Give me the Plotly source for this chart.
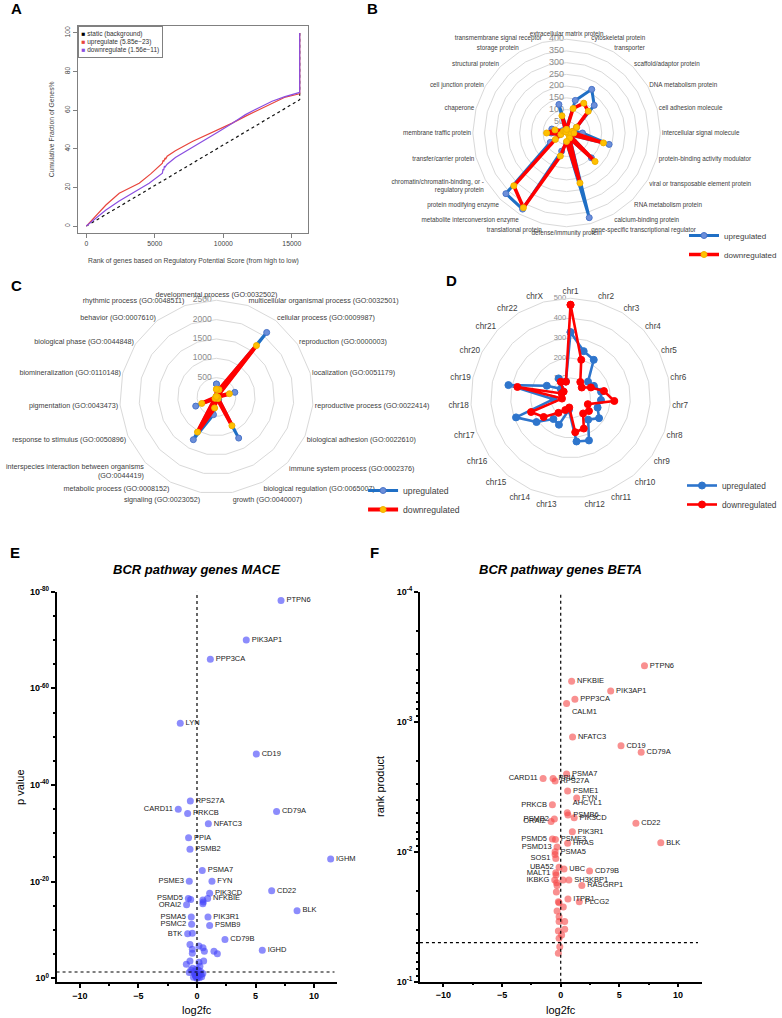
import math
import plotly.graph_objects as go

FONT = "Liberation Sans, Arial, sans-serif"
W, H = 782, 1018


def fx(px):
    return px / W


def fy(py):
    return 1 - py / H


# ---------------- Panel A data ----------------
a_rank_static = [0, 15575, 15575]
a_frac_static = [0, 65.4, 100]
a_rank_up = [0, 700, 1430, 2400, 3100, 3857, 4700, 5553, 5600, 5650, 5750, 5800, 5900, 6500,
             7740, 8600, 9190, 10650, 11600, 12590, 13500, 14530, 15500, 15575, 15575]
a_frac_up = [0, 5.5, 10.9, 17.0, 19.5, 22.2, 27.0, 32.6, 34.0, 33.4, 35.3, 34.8, 36.2, 39.0,
             43.8, 46.6, 48.5, 53.3, 56.8, 60.3, 63.5, 66.8, 68.4, 68.5, 100]
a_rank_down = [0, 700, 1430, 2400, 3370, 4585, 5553, 5600, 5650, 5700, 5750, 5800, 5900, 6500,
               7256, 8500, 9680, 10600, 11620, 12600, 13560, 14500, 15500, 15575, 15575]
a_frac_down = [0, 4.2, 8.3, 13.0, 17.0, 22.2, 27.4, 29.5, 29.0, 31.0, 30.6, 31.3, 32.0, 35.5,
               38.6, 44.0, 49.0, 53.0, 57.7, 61.3, 64.6, 67.0, 69.0, 69.2, 100]
a_xticks = [0, 5000, 10000, 15000]
a_xticktext = ["0", "5000", "10000", "15000"]
a_yticks = [0, 20, 40, 60, 80, 100]

# ---------------- Panel B data ----------------
b_categories = [
    "extracellular matrix protein", "cytoskeletal protein", "transporter",
    "scaffold/adaptor protein", "DNA metabolism protein", "cell adhesion molecule",
    "intercellular signal molecule", "protein-binding activity modulator",
    "viral or transposable element protein", "RNA metabolism protein",
    "calcium-binding protein", "gene-specific transcriptional regulator",
    "defense/immunity protein", "translational protein",
    "metabolite interconversion enzyme", "protein modifying enzyme",
    "chromatin/chromatin-binding, or -<br>regulatory protein", "transfer/carrier protein",
    "membrane traffic protein", "chaperone", "cell junction protein",
    "structural protein", "storage protein", "transmembrane signal receptor",
]
b_up = [20, 144, 215, 167, 50, 30, 68, 188, 15, 150, 30, 374, 40, 80, 375, 366, 80, 30, 65,
        65, 20, 15, 10, 126]
b_down = [15, 108, 147, 131, 49, 25, 31, 163, 10, 172, 25, 221, 36, 102, 368, 318, 55, 25, 85,
          51, 15, 10, 5, 76]
b_rticks = [0, 50, 100, 150, 200, 250, 300, 350, 400]

# ---------------- Panel C data ----------------
c_categories = [
    "developmental process (GO:0032502)", "multicellular organismal process (GO:0032501)",
    "cellular process (GO:0009987)", "reproduction (GO:0000003)", "localization (GO:0051179)",
    "reproductive process (GO:0022414)", "biological adhesion (GO:0022610)",
    "immune system process (GO:0002376)", "biological regulation (GO:0065007)",
    "growth (GO:0040007)", "signaling (GO:0023052)", "metabolic process (GO:0008152)",
    "interspecies interaction between organisms<br>(GO:0044419)",
    "response to stimulus (GO:0050896)", "pigmentation (GO:0043473)",
    "biomineralization (GO:0110148)", "biological phase (GO:0044848)",
    "behavior (GO:0007610)", "rhythmic process (GO:0048511)",
]
c_up = [335, 200, 2113, 20, 490, 25, 60, 80, 1207, 10, 463, 1254, 60, 585, 5, 5, 10, 15, 10]
c_down = [200, 200, 1684, 15, 345, 20, 45, 60, 842, 10, 287, 1030, 50, 413, 5, 5, 10, 15, 10]
c_rticks = [0, 500, 1000, 1500, 2000, 2500]

# ---------------- Panel D data ----------------
d_categories = ["chr1", "chr2", "chr3", "chr4", "chr5", "chr6", "chr7", "chr8", "chr9", "chr10",
                "chr11", "chr12", "chr13", "chr14", "chr15", "chr16", "chr17", "chr18", "chr19",
                "chr20", "chr21", "chr22", "chrX"]
d_up = [330, 244, 224, 120, 132, 156, 153, 144, 175, 140, 232, 220, 60, 146, 136, 209, 290, 85,
        318, 134, 67, 115, 86]
d_down = [467, 199, 94, 77, 115, 171, 220, 92, 113, 100, 167, 173, 48, 66, 96, 165, 210, 43,
          272, 50, 47, 95, 85]
d_rticks = [0, 100, 200, 300, 400, 500]

# ---------------- Panel E data (MACE) ----------------
e_genes_right = ["PTPN6", "PIK3AP1", "PPP3CA", "LYN", "CD19", "RPS27A", "PRKCB", "CD79A",
                 "NFATC3", "PPIA", "PSMB2", "IGHM", "PSMA7", "FYN", "PIK3CD", "CD22", "NFKBIE",
                 "BLK", "PIK3R1", "PSMB9", "CD79B", "IGHD"]
e_fc_right = [7.18, 4.21, 1.14, -1.43, 5.07, -0.57, -0.80, 6.80, 0.97, -0.72, -0.60, 11.42,
              0.45, 1.28, 1.08, 6.38, 0.91, 8.55, 0.94, 1.08, 2.39, 5.58]
e_nlp_right = [78.2, 70.0, 66.0, 52.8, 46.4, 36.7, 34.1, 34.5, 32.0, 29.1, 26.7, 24.7, 22.3,
               20.1, 17.6, 18.1, 16.5, 14.0, 12.7, 10.9, 8.0, 5.8]
e_genes_left = ["CARD11", "PSME3", "PSMD5", "ORAI2", "PSMA5", "PSMC2", "BTK"]
e_fc_left = [-1.60, -0.66, -0.74, -0.89, -0.49, -0.46, -0.80]
e_nlp_left = [35.0, 20.1, 16.5, 15.2, 12.7, 11.2, 9.2]
e_fc_other = [-0.54, 0.50, 0.53, 0.50, -0.40, -0.60, 0.17, 0.51, -0.40, -0.40, 0.63, 1.45, 1.74,
              -0.91, -0.60, 0.17, 0.57, -0.37, -0.23, -0.10, 0.30, 0.50, 0.17, -0.06, -0.52,
              -0.66, 0.11, -0.14, 0.06, -0.30, -0.02, 0.25, 0.40, -0.20, 0.00, 0.10, -0.05,
              0.20, -0.15, 0.35]
e_nlp_other = [16.3, 16.2, 15.8, 15.4, 9.3, 7.0, 6.7, 6.3, 6.0, 5.2, 5.6, 5.6, 5.1, 2.9, 3.6,
               3.3, 3.6, 2.1, 1.4, 0.4, 1.4, 1.0, 0.7, 0.3, 1.7, 1.2, 1.7, 0.7, 0.2, 0.2, 0.0,
               2.5, 0.3, 1.0, 0.9, 0.5, 1.9, 0.1, 0.6, 0.8]
e_yticks = [0, 20, 40, 60, 80]
e_yticktext = ["10<sup>0</sup>", "10<sup>-20</sup>", "10<sup>-40</sup>", "10<sup>-60</sup>",
               "10<sup>-80</sup>"]

# ---------------- Panel F data (BETA) ----------------
f_genes_right = ["PTPN6", "NFKBIE", "PIK3AP1", "PPP3CA", "NFATC3", "CD19", "CD79A", "PSMA7",
                 "PPIA", "RPS27A", "PSME1", "FYN", "PSMB6", "PIK3CD", "CD22", "PIK3R1", "PSME3",
                 "HRAS", "BLK", "PSMA5", "UBC", "CD79B", "SH3KBP1", "RASGRP1", "ITPR1", "PLCG2"]
f_fc_right = [7.14, 0.93, 4.26, 1.21, 1.01, 5.14, 6.86, 0.50, -0.65, -0.48, 0.59, 1.36, 0.62,
              1.15, 6.41, 0.99, -0.45, 0.59, 8.53, -0.48, 0.28, 2.46, 0.70, 1.80, 0.62, 1.58]
f_rp_right = [3.71e-4, 4.89e-4, 5.81e-4, 6.73e-4, 1.31e-3, 1.53e-3, 1.72e-3, 2.52e-3, 2.74e-3,
              2.86e-3, 3.41e-3, 3.86e-3, 5.22e-3, 5.47e-3, 6.05e-3, 7.02e-3, 8.04e-3, 8.61e-3,
              8.53e-3, 1.00e-2, 1.36e-2, 1.41e-2, 1.65e-2, 1.82e-2, 2.31e-2, 2.43e-2]
f_genes_left = ["CARD11", "PRKCB", "PSMB2", "ORAI2", "PSMD5", "PSMD13", "SOS1", "UBA52",
                "MALT1", "IKBKG"]
f_fc_left = [-1.50, -0.71, -0.54, -0.82, -0.71, -0.31, -0.42, -0.14, -0.42, -0.51]
f_rp_left = [2.74e-3, 4.35e-3, 5.60e-3, 5.87e-3, 7.98e-3, 9.20e-3, 1.13e-2, 1.32e-2, 1.45e-2,
             1.65e-2]
f_genes_calm = ["CALM1"]
f_fc_calm = [0.50]
f_rp_calm = [7.23e-4]
f_genes_ahcyl = ["AHCYL1"]
f_fc_ahcyl = [0.56]
f_rp_ahcyl = [5.01e-3]
f_fc_other = [-0.48, -0.35, -0.31, -0.37, -0.20, -0.14, 0.22, -0.31, -0.14, -0.14, 0.34, 0.34,
              -0.20, 0.08, -0.14, -0.08, -0.20, 0.20, -0.40]
f_rp_other = [1.05e-2, 1.73e-2, 1.82e-2, 2.04e-2, 2.43e-2, 2.47e-2, 2.66e-2, 2.86e-2, 3.16e-2,
              3.45e-2, 3.45e-2, 3.95e-2, 4.07e-2, 4.38e-2, 4.64e-2, 5.38e-2, 6.05e-2, 1.65e-2,
              1.51e-2]
f_yticks = [1e-4, 1e-3, 1e-2, 1e-1]
f_yticktext = ["10<sup>-4</sup>", "10<sup>-3</sup>", "10<sup>-2</sup>", "10<sup>-1</sup>"]
f_yminor = [k * 10 ** e for e in (-4, -3, -2) for k in range(2, 10)]

fc_ticks = [-10, -5, 0, 5, 10]
P_THRESHOLD = 0.05

fig = go.Figure()

# ---------------- Panel A traces ----------------
fig.add_trace(go.Scatter(x=a_rank_static, y=a_frac_static, mode="lines",
                         line=dict(color="#111111", width=1.2, dash="3px,3px"),
                         showlegend=False, xaxis="x", yaxis="y"))
fig.add_trace(go.Scatter(x=a_rank_up, y=a_frac_up, mode="lines",
                         line=dict(color="#E8453C", width=1.2),
                         showlegend=False, xaxis="x", yaxis="y"))
fig.add_trace(go.Scatter(x=a_rank_down, y=a_frac_down, mode="lines",
                         line=dict(color="#8A4FE0", width=1.2),
                         showlegend=False, xaxis="x", yaxis="y"))


# ---------------- Polar helpers ----------------
def closed(seq):
    return list(seq) + [seq[0]]


def radar(cats, vals, name, lcol, lw, mcol, mline, msize, subplot, legend, showlegend=True):
    return go.Scatterpolar(
        theta=closed(cats), r=closed(vals), name=name, mode="lines+markers",
        line=dict(color=lcol, width=lw),
        marker=dict(color=mcol, size=msize, line=dict(color=mline, width=1)),
        subplot=subplot, legend=legend, showlegend=showlegend)


def radial_labels(cats, ticks, subplot, size, pad):
    # radial tick values written beside the vertical (first-category) spoke
    return go.Scatterpolar(
        theta=[cats[0]] * len(ticks), r=ticks, mode="text",
        text=[str(t) + "\u00a0" * pad for t in ticks], textposition="middle left",
        textfont=dict(family=FONT, size=size, color="#8c8c8c"),
        subplot=subplot, showlegend=False, hoverinfo="skip")


# B
fig.add_trace(radial_labels(b_categories, b_rticks, "polar", 9, 1))
fig.add_trace(radar(b_categories, b_up, "upregulated", "#1F6FC5", 3, "#6C8FDA", "#4A74C8", 6,
                    "polar", "legend"))
fig.add_trace(radar(b_categories, b_down, "downregulated", "#FF0000", 3.5, "#FFC000", "#F0B000",
                    6, "polar", "legend"))
fig.add_trace(go.Scatterpolar(theta=b_categories, r=[0] * len(b_categories), mode="markers",
                              marker=dict(color="#70AD47", size=6), subplot="polar",
                              showlegend=False))
# C
fig.add_trace(radial_labels(c_categories, c_rticks, "polar2", 8.5, 2))
fig.add_trace(radar(c_categories, c_up, "upregulated", "#1F6FC5", 3, "#6C8FDA", "#4A74C8", 6,
                    "polar2", "legend2"))
fig.add_trace(radar(c_categories, c_down, "downregulated", "#FF0000", 4, "#FFC000", "#F0B000",
                    6, "polar2", "legend2"))
fig.add_trace(go.Scatterpolar(theta=c_categories, r=[0] * len(c_categories), mode="markers",
                              marker=dict(color="#70AD47", size=6), subplot="polar2",
                              showlegend=False))
# D
fig.add_trace(radial_labels(d_categories, d_rticks, "polar3", 7.6, 2))
fig.add_trace(radar(d_categories, d_up, "upregulated", "#2E75CC", 2.6, "#2E75CC", "#2E75CC", 7,
                    "polar3", "legend3"))
fig.add_trace(radar(d_categories, d_down, "downregulated", "#FF0000", 2.6, "#FF0000", "#FF0000",
                    7, "polar3", "legend3"))

# ---------------- Panel E traces ----------------
E_MARK = dict(color="rgba(70,70,250,0.62)", size=7)
LABEL_FONT = dict(family=FONT, size=7.5, color="#1a1a1a")
fig.add_trace(go.Scatter(x=e_fc_other, y=e_nlp_other, mode="markers", marker=E_MARK,
                         showlegend=False, xaxis="x2", yaxis="y2"))
fig.add_trace(go.Scatter(x=e_fc_right, y=e_nlp_right, mode="markers+text", text=e_genes_right,
                         textposition="middle right", textfont=LABEL_FONT, marker=E_MARK,
                         cliponaxis=False, showlegend=False, xaxis="x2", yaxis="y2"))
fig.add_trace(go.Scatter(x=e_fc_left, y=e_nlp_left, mode="markers+text", text=e_genes_left,
                         textposition="middle left", textfont=LABEL_FONT, marker=E_MARK,
                         cliponaxis=False, showlegend=False, xaxis="x2", yaxis="y2"))

# ---------------- Panel F traces ----------------
F_MARK = dict(color="rgba(245,70,70,0.6)", size=7)
fig.add_trace(go.Scatter(x=f_fc_other, y=f_rp_other, mode="markers", marker=F_MARK,
                         showlegend=False, xaxis="x3", yaxis="y3"))
fig.add_trace(go.Scatter(x=f_fc_right, y=f_rp_right, mode="markers+text", text=f_genes_right,
                         textposition="middle right", textfont=LABEL_FONT, marker=F_MARK,
                         cliponaxis=False, showlegend=False, xaxis="x3", yaxis="y3"))
fig.add_trace(go.Scatter(x=f_fc_left, y=f_rp_left, mode="markers+text", text=f_genes_left,
                         textposition="middle left", textfont=LABEL_FONT, marker=F_MARK,
                         cliponaxis=False, showlegend=False, xaxis="x3", yaxis="y3"))
fig.add_trace(go.Scatter(x=f_fc_calm, y=f_rp_calm, mode="markers+text", text=f_genes_calm,
                         textposition="bottom right", textfont=LABEL_FONT, marker=F_MARK,
                         cliponaxis=False, showlegend=False, xaxis="x3", yaxis="y3"))
fig.add_trace(go.Scatter(x=f_fc_ahcyl, y=f_rp_ahcyl, mode="markers+text", text=f_genes_ahcyl,
                         textposition="top right", textfont=LABEL_FONT, marker=F_MARK,
                         cliponaxis=False, showlegend=False, xaxis="x3", yaxis="y3"))

# ---------------- Reference lines (threshold / zero) ----------------
e_thr = -math.log10(P_THRESHOLD)
shapes = [
    dict(type="line", xref="x2", yref="y2", x0=-12, x1=11.75, y0=e_thr, y1=e_thr,
         line=dict(color="black", width=1.2, dash="dot")),
    dict(type="line", xref="x2", yref="y2", x0=0, x1=0, y0=-0.77, y1=80,
         line=dict(color="black", width=1.2, dash="dot")),
    dict(type="line", xref="x3", yref="y3", x0=-12, x1=11.7, y0=P_THRESHOLD, y1=P_THRESHOLD,
         line=dict(color="black", width=1.2, dash="dot")),
    dict(type="line", xref="x3", yref="y3", x0=0, x1=0, y0=1e-1, y1=1e-4,
         line=dict(color="black", width=1.2, dash="dot")),
]

# ---------------- Layout ----------------
A_TICK = dict(family=FONT, size=6.8, color="#444444")
prism_tick = dict(family=FONT, size=9, color="black", weight="bold")


def polar_layout(domx, domy, rmax, dtick, afont):
    return dict(
        domain=dict(x=domx, y=domy),
        bgcolor="rgba(0,0,0,0)",
        gridshape="linear",
        angularaxis=dict(rotation=90, direction="clockwise", showgrid=False, showline=True,
                         linecolor="#d9d9d9", linewidth=1, ticks="",
                         tickfont=dict(family=FONT, size=afont, color="#404040")),
        radialaxis=dict(range=[0, rmax], dtick=dtick, angle=90, showticklabels=False,
                        showline=False, ticks="", gridcolor="#d9d9d9", gridwidth=1),
    )


legend_common = dict(xanchor="left", yanchor="top", bgcolor="rgba(0,0,0,0)", itemwidth=30,
                     tracegroupgap=0)

annotations = []


def ann(text, x, y, size, **kw):
    d = dict(text=text, x=fx(x), y=fy(y), xref="paper", yref="paper", showarrow=False,
             xanchor="center", yanchor="middle",
             font=dict(family=FONT, size=size, color=kw.pop("color", "black")))
    d.update(kw)
    annotations.append(d)


# panel letters
for letter, lx, ly in [("A", 17, 8.5), ("B", 373.5, 8.5), ("C", 17, 285), ("D", 452.5, 280.5),
                       ("E", 15.5, 552.5), ("F", 375, 552.5)]:
    ann("<b>" + letter + "</b>", lx, ly, 15)

# A titles and legend box
ann("Rank of genes based on Regulatory Potential Score (from high to low)", 193.5, 261, 6.8,
    color="#444444")
ann("Cumulative Fraction of Genes%", 52, 129.5, 6.8, color="#444444", textangle=-90)
ann('<span style="color:#000000">■</span> static (background)<br>'
    '<span style="color:#E8453C">■</span> upregulate (5.85e−23)<br>'
    '<span style="color:#8A4FE0">■</span> downregulate (1.56e−11)',
    78, 26, 6.5, color="#333333", xanchor="left", yanchor="top", align="left",
    bordercolor="#808080", borderwidth=1, borderpad=2.5)

# E / F titles
ann("<b><i>BCR pathway genes MACE</i></b>", 197.5, 569, 13)
ann("<b><i>BCR pathway genes BETA</i></b>", 562, 569, 13)
ann("log2fc", 197.5, 1010, 11)
ann("p value", 20, 787, 11, textangle=-90)
ann("log2fc", 562, 1010, 11)
ann("rank product", 381, 787, 11, textangle=-90)

fig.update_layout(
    template="none",
    width=W, height=H, autosize=False,
    margin=dict(l=0, r=0, t=0, b=0),
    paper_bgcolor="white", plot_bgcolor="rgba(0,0,0,0)",
    font=dict(family=FONT, color="#404040"),
    shapes=shapes,
    annotations=annotations,
    # Panel A
    xaxis=dict(domain=[fx(78), fx(309)], range=[-623, 16198], tickvals=a_xticks,
               ticktext=a_xticktext,
               ticks="outside", ticklen=4, tickcolor="#808080", tickfont=A_TICK,
               showline=True, mirror=True, linecolor="#808080", linewidth=1,
               showgrid=False, zeroline=False, anchor="y"),
    yaxis=dict(domain=[fy(233), fy(26)], range=[-3.6, 103.6], tickvals=a_yticks,
               ticks="outside", ticklen=4, tickcolor="#808080", tickfont=A_TICK, tickangle=-90,
               showline=True, mirror=True, linecolor="#808080", linewidth=1,
               showgrid=False, zeroline=False, anchor="x"),
    # Panel E
    xaxis2=dict(domain=[fx(56.7), fx(338.3)], range=[-12, 12], tickvals=fc_ticks,
                ticks="outside", ticklen=4, tickwidth=1.5, tickcolor="black",
                tickfont=prism_tick, showline=True, linecolor="black", linewidth=1.5,
                showgrid=False, zeroline=False, anchor="y2",
                minor=dict(dtick=2.5, ticks="outside", ticklen=2, tickcolor="black")),
    yaxis2=dict(domain=[fy(982), fy(591.7)], range=[-0.77, 80], tickvals=e_yticks,
                ticktext=e_yticktext, ticks="outside", ticklen=4, tickwidth=1.5,
                tickcolor="black", tickfont=prism_tick, showline=True, linecolor="black",
                linewidth=1.5, showgrid=False, zeroline=False, anchor="x2",
                minor=dict(dtick=5, ticks="outside", ticklen=2, tickcolor="black")),
    # Panel F
    xaxis3=dict(domain=[fx(421), fx(703.3)], range=[-12, 12], tickvals=fc_ticks,
                ticks="outside", ticklen=4, tickwidth=1.5, tickcolor="black",
                tickfont=prism_tick, showline=True, linecolor="black", linewidth=1.5,
                showgrid=False, zeroline=False, anchor="y3",
                minor=dict(dtick=2.5, ticks="outside", ticklen=2, tickcolor="black")),
    yaxis3=dict(domain=[fy(981.7), fy(591.7)], type="log", range=[-1, -4], tickvals=f_yticks,
                ticktext=f_yticktext, ticks="outside", ticklen=4, tickwidth=1.5,
                tickcolor="black", tickfont=prism_tick, showline=True, linecolor="black",
                linewidth=1.5, showgrid=False, zeroline=False, anchor="x3",
                minor=dict(tickvals=f_yminor, ticks="outside", ticklen=2.5, tickcolor="black")),
    polar=polar_layout([fx(474), fx(662)], [fy(227), fy(39)], 400, 50, 6.3),
    polar2=polar_layout([fx(120), fx(314)], [fy(494), fy(300)], 2500, 500, 7.2),
    polar3=polar_layout([fx(472), fx(672)], [fy(498), fy(298)], 500, 100, 8.2),
    legend=dict(x=fx(686), y=fy(221), font=dict(family=FONT, size=8, color="#404040"),
                **legend_common),
    legend2=dict(x=fx(364), y=fy(476), font=dict(family=FONT, size=8.6, color="#404040"),
                 **legend_common),
    legend3=dict(x=fx(684), y=fy(471), font=dict(family=FONT, size=8.3, color="#404040"),
                 **legend_common),
)

# remove the browser's default page margin so the 782x1018 figure fills the window exactly
fig.write_html("out.html",
               config={"displayModeBar": False},
               post_script="document.body.style.margin='0';"
                           "document.documentElement.style.overflow='hidden';")
